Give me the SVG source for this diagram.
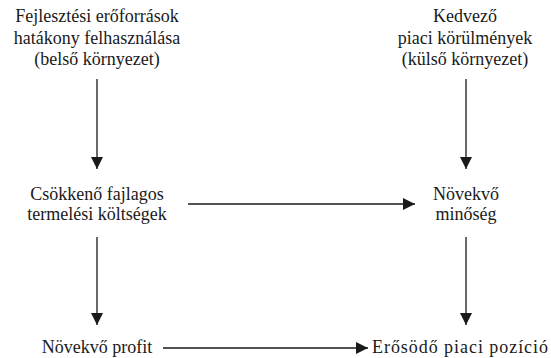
<svg xmlns="http://www.w3.org/2000/svg" width="551" height="358" viewBox="0 0 551 358">
<defs>
<marker id="ah" markerWidth="12" markerHeight="12" viewBox="0 0 12 12" refX="12" refY="6" orient="auto" markerUnits="userSpaceOnUse">
<path d="M0,0 L12,6 L0,12 Z" fill="#1a1a1a"/>
</marker>
</defs>
<rect width="551" height="358" fill="#fff"/>
<g id="n1"><text x="97" y="22" font-family="'Liberation Serif', serif" font-size="18" fill="#1a1a1a" text-anchor="middle">Fejlesztési erőforrások</text><text x="97" y="44" font-family="'Liberation Serif', serif" font-size="18" fill="#1a1a1a" text-anchor="middle">hatákony felhasználása</text><text x="97" y="65" font-family="'Liberation Serif', serif" font-size="18" fill="#1a1a1a" text-anchor="middle">(belső környezet)</text></g>
<g id="n2"><text x="465" y="22" font-family="'Liberation Serif', serif" font-size="18" fill="#1a1a1a" text-anchor="middle">Kedvező</text><text x="465" y="44" font-family="'Liberation Serif', serif" font-size="18" fill="#1a1a1a" text-anchor="middle">piaci körülmények</text><text x="465" y="65" font-family="'Liberation Serif', serif" font-size="18" fill="#1a1a1a" text-anchor="middle">(külső környezet)</text></g>
<g id="n3"><text x="97" y="200" font-family="'Liberation Serif', serif" font-size="18" fill="#1a1a1a" text-anchor="middle">Csökkenő fajlagos</text><text x="97" y="220" font-family="'Liberation Serif', serif" font-size="18" fill="#1a1a1a" text-anchor="middle">termelési költségek</text></g>
<g id="n4"><text x="466" y="200" font-family="'Liberation Serif', serif" font-size="18" fill="#1a1a1a" text-anchor="middle">Növekvő</text><text x="466" y="220" font-family="'Liberation Serif', serif" font-size="18" fill="#1a1a1a" text-anchor="middle">minőség</text></g>
<g id="n5"><text x="97" y="353" font-family="'Liberation Serif', serif" font-size="18" fill="#1a1a1a" text-anchor="middle">Növekvő profit</text></g>
<g id="n6"><text x="372" y="353" font-family="'Liberation Serif', serif" font-size="18" fill="#1a1a1a" textLength="176" lengthAdjust="spacing">Erősödő piaci pozíció</text></g>
<g id="connectors" stroke="#1a1a1a" stroke-width="1.3" fill="none">
<path marker-end="url(#ah)" d="M97,79 V169"/>
<path marker-end="url(#ah)" d="M466,79 V169"/>
<path marker-end="url(#ah)" d="M188,204 H415"/>
<path marker-end="url(#ah)" d="M97,237 V325"/>
<path marker-end="url(#ah)" d="M466,237 V325"/>
<path marker-end="url(#ah)" d="M163,348 H368"/>
</g>
</svg>
